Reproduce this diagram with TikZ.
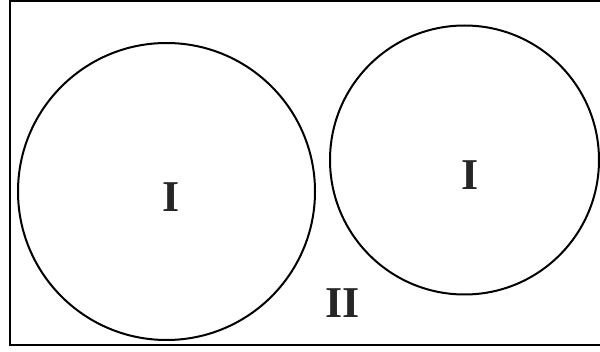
\documentclass[tikz,border=0pt]{standalone}
\usepackage{fontspec}
\setmainfont{Liberation Serif}
\begin{document}
\begin{tikzpicture}[x=1pt,y=1pt,
  ring/.style={draw=black,line width=2pt,circle,inner sep=0pt},
  lab/.style={font=\fontsize{44}{44}\selectfont\bfseries,text=black!85,inner sep=0pt}]
\useasboundingbox (0,0) rectangle (600,351);
\draw[line width=2pt] (10,6) rectangle (603,350);
\node[ring,minimum size=297pt] (c1) at (166.5,159.5) {};
\node[ring,minimum size=269pt] (c2) at (464.5,191) {};
\node[lab] (l1) at (171,154) {I};
\node[lab] (l2) at (470,176) {I};
\node[lab] (l3) at (343,48) {II};
\end{tikzpicture}
\end{document}
